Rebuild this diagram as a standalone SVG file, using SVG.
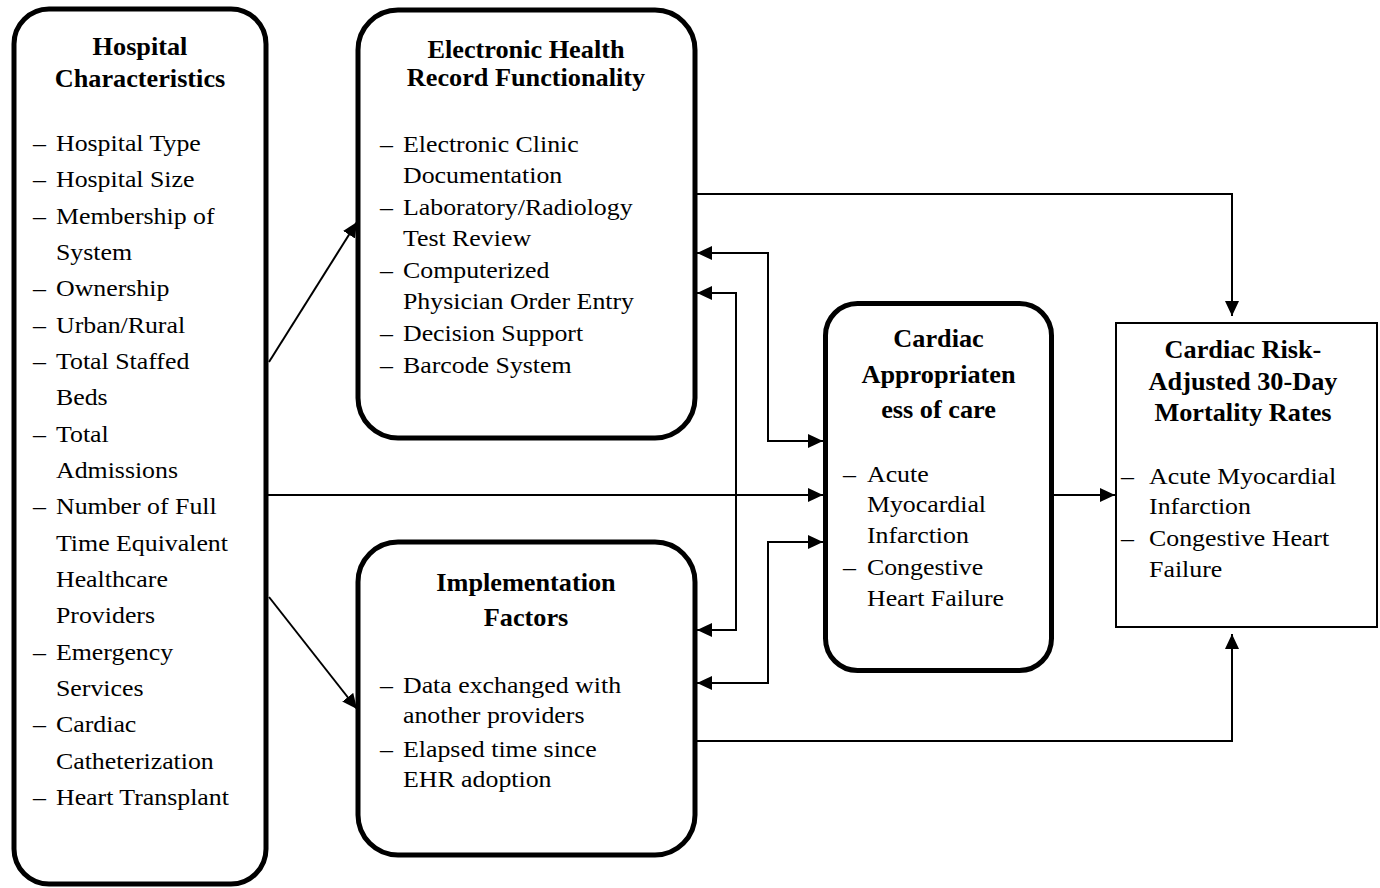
<svg xmlns="http://www.w3.org/2000/svg" width="1380" height="888" viewBox="0 0 1380 888">
<style>
.box{fill:#fff;stroke:#000;stroke-width:5}
.box2{fill:#fff;stroke:#000;stroke-width:2}
.t{font-family:"Liberation Serif","Times New Roman",serif;font-weight:bold;font-size:25px;text-anchor:middle;fill:#000}
.b{font-family:"Liberation Serif","Times New Roman",serif;font-size:23.5px;fill:#000}
.c{fill:none;stroke:#000;stroke-width:2}
</style>
<defs>
<marker id="ah" markerUnits="userSpaceOnUse" markerWidth="15" markerHeight="14" refX="15" refY="7" orient="auto-start-reverse" viewBox="0 0 15 14">
<path d="M0,0 L15,7 L0,14 Z" fill="#000"/>
</marker>
</defs>
<rect width="1380" height="888" fill="#fff"/>

<g id="connectors">
<path class="c" d="M269,362 L357,222" marker-end="url(#ah)"/>
<path class="c" d="M269,597 L357,709" marker-end="url(#ah)"/>
<path class="c" d="M268,495 L823,495" marker-end="url(#ah)"/>
<path class="c" d="M697,194 H1232 V316" marker-end="url(#ah)"/>
<path class="c" d="M697,741 H1232 V634" marker-end="url(#ah)"/>
<path class="c" d="M1053,495 H1115" marker-end="url(#ah)"/>
<path class="c" d="M697,253 H768 V441 H823" marker-start="url(#ah)" marker-end="url(#ah)"/>
<path class="c" d="M697,293 H736 V630 H697" marker-start="url(#ah)" marker-end="url(#ah)"/>
<path class="c" d="M823,542 H768 V683 H697" marker-start="url(#ah)" marker-end="url(#ah)"/>
</g>

<g id="hospital">
<rect class="box" x="14" y="9" width="252" height="875" rx="35"/>
<g transform="matrix(1.05 0 0 1 -7 0)">
<text class="t" x="140" y="55">Hospital</text>
<text class="t" x="140" y="87">Characteristics</text>
</g>
<g transform="matrix(1.1 0 0 1 -3.3 0)" class="b">
<text class="b" x="33" y="151">–</text><text class="b" x="53.9" y="151">Hospital Type</text>
<text class="b" x="33" y="187.3">–</text><text class="b" x="53.9" y="187.3">Hospital Size</text>
<text class="b" x="33" y="223.7">–</text><text class="b" x="53.9" y="223.7">Membership of</text>
<text class="b" x="53.9" y="260">System</text>
<text class="b" x="33" y="296.3">–</text><text class="b" x="53.9" y="296.3">Ownership</text>
<text class="b" x="33" y="332.7">–</text><text class="b" x="53.9" y="332.7">Urban/Rural</text>
<text class="b" x="33" y="369">–</text><text class="b" x="53.9" y="369">Total Staffed</text>
<text class="b" x="53.9" y="405.3">Beds</text>
<text class="b" x="33" y="441.7">–</text><text class="b" x="53.9" y="441.7">Total</text>
<text class="b" x="53.9" y="478">Admissions</text>
<text class="b" x="33" y="514.3">–</text><text class="b" x="53.9" y="514.3">Number of Full</text>
<text class="b" x="53.9" y="550.7">Time Equivalent</text>
<text class="b" x="53.9" y="587">Healthcare</text>
<text class="b" x="53.9" y="623.3">Providers</text>
<text class="b" x="33" y="659.7">–</text><text class="b" x="53.9" y="659.7">Emergency</text>
<text class="b" x="53.9" y="696">Services</text>
<text class="b" x="33" y="732.3">–</text><text class="b" x="53.9" y="732.3">Cardiac</text>
<text class="b" x="53.9" y="768.7">Catheterization</text>
<text class="b" x="33" y="805">–</text><text class="b" x="53.9" y="805">Heart Transplant</text>
</g>
</g>

<g id="ehr">
<rect class="box" x="358" y="10" width="337" height="428" rx="40"/>
<g transform="matrix(1.05 0 0 1 -26.3 0)">
<text class="t" x="526" y="58">Electronic Health</text>
<text class="t" x="526" y="86">Record Functionality</text>
</g>
<g transform="matrix(1.1 0 0 1 -38 0)">
<text class="b" x="380" y="152">–</text><text class="b" x="400.9" y="152">Electronic Clinic</text>
<text class="b" x="400.9" y="183">Documentation</text>
<text class="b" x="380" y="215">–</text><text class="b" x="400.9" y="215">Laboratory/Radiology</text>
<text class="b" x="400.9" y="246">Test Review</text>
<text class="b" x="380" y="278">–</text><text class="b" x="400.9" y="278">Computerized</text>
<text class="b" x="400.9" y="309">Physician Order Entry</text>
<text class="b" x="380" y="341">–</text><text class="b" x="400.9" y="341">Decision Support</text>
<text class="b" x="380" y="373">–</text><text class="b" x="400.9" y="373">Barcode System</text>
</g>
</g>

<g id="implementation">
<rect class="box" x="358" y="542" width="337" height="313" rx="40"/>
<g transform="matrix(1.05 0 0 1 -26.3 0)">
<text class="t" x="526" y="591">Implementation</text>
<text class="t" x="526" y="626">Factors</text>
</g>
<g transform="matrix(1.1 0 0 1 -38 0)">
<text class="b" x="380" y="693">–</text><text class="b" x="400.9" y="693">Data exchanged with</text>
<text class="b" x="400.9" y="723">another providers</text>
<text class="b" x="380" y="757">–</text><text class="b" x="400.9" y="757">Elapsed time since</text>
<text class="b" x="400.9" y="787">EHR adoption</text>
</g>
</g>

<g id="appropriateness">
<rect class="box" x="825.5" y="303.5" width="226" height="367" rx="32"/>
<g transform="matrix(1.05 0 0 1 -46.9 0)">
<text class="t" x="938.5" y="347">Cardiac</text>
<text class="t" x="938.5" y="383">Appropriaten</text>
<text class="t" x="938.5" y="418">ess of care</text>
</g>
<g transform="matrix(1.1 0 0 1 -84.3 0)">
<text class="b" x="843" y="482">–</text><text class="b" x="864.8" y="482">Acute</text>
<text class="b" x="864.8" y="512">Myocardial</text>
<text class="b" x="864.8" y="543">Infarction</text>
<text class="b" x="843" y="575">–</text><text class="b" x="864.8" y="575">Congestive</text>
<text class="b" x="864.8" y="606">Heart Failure</text>
</g>
</g>

<g id="mortality">
<rect class="box2" x="1116" y="323" width="261" height="304"/>
<g transform="matrix(1.05 0 0 1 -62.15 0)">
<text class="t" x="1243" y="358">Cardiac Risk-</text>
<text class="t" x="1243" y="390">Adjusted 30-Day</text>
<text class="t" x="1243" y="421">Mortality Rates</text>
</g>
<g transform="matrix(1.1 0 0 1 -112.1 0)">
<text class="b" x="1121" y="484">–</text><text class="b" x="1146.5" y="484">Acute Myocardial</text>
<text class="b" x="1146.5" y="514">Infarction</text>
<text class="b" x="1121" y="546">–</text><text class="b" x="1146.5" y="546">Congestive Heart</text>
<text class="b" x="1146.5" y="577">Failure</text>
</g>
</g>
</svg>
